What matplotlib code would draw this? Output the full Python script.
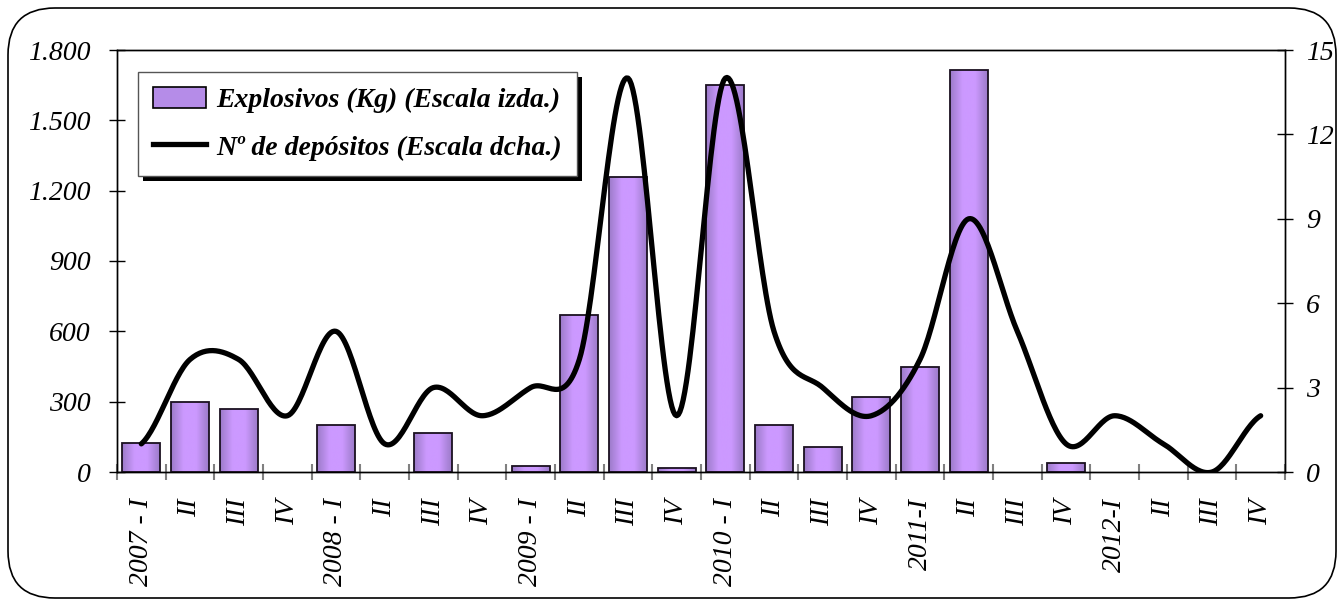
import numpy as np
import matplotlib
matplotlib.use("Agg")
import matplotlib.pyplot as plt
from matplotlib.patches import FancyBboxPatch, Rectangle, Patch
from matplotlib.lines import Line2D
from matplotlib.colors import LinearSegmentedColormap

categories = ["2007 - I", "II", "III", "IV", "2008 - I", "II", "III", "IV",
              "2009 - I", "II", "III", "IV", "2010 - I", "II", "III", "IV",
              "2011-I", "II", "III", "IV", "2012-I", "II", "III", "IV"]
explosivos = [125, 300, 270, 0, 200, 0, 165, 0,
              25, 670, 1260, 15, 1650, 200, 105, 320,
              450, 1715, 0, 38, 0, 0, 0, 0]
depositos = [1, 4, 4, 2, 5, 1, 3, 2,
             3, 4, 14, 2, 14, 5, 3, 2,
             4, 9, 5, 1, 2, 1, 0, 2]
left_ticks = [0, 300, 600, 900, 1200, 1500, 1800]
left_labels = ["0", "300", "600", "900", "1.200", "1.500", "1.800"]
right_ticks = [0, 3, 6, 9, 12, 15]
right_labels = ["0", "3", "6", "9", "12", "15"]

W, H = 1340, 600
fig = plt.figure(figsize=(W / 100, H / 100), dpi=100)
fig.patch.set_facecolor("white")

# outer rounded frame
frame = FancyBboxPatch((8 / W, 2 / H), (W - 12) / W, (H - 10) / H,
                       boxstyle="round,pad=0,rounding_size=0.035",
                       transform=fig.transFigure, fill=False,
                       edgecolor="black", linewidth=1.2, mutation_aspect=W / H)
fig.patches.append(frame)

ax = fig.add_axes([117 / W, 1 - 472 / H, (1285 - 117) / W, (472 - 50) / H])
ax2 = ax.twinx()

font = "Liberation Serif"
x = np.arange(len(categories))

# bars with horizontal gradient
cmap = LinearSegmentedColormap.from_list("g", ["#9C7BC9", "#CC99FF", "#CC99FF", "#9C7BC9"])
grad = np.linspace(0, 1, 64).reshape(1, -1)
bars = ax.bar(x, explosivos, width=0.78, color="#B58CE8", edgecolor="none",
              linewidth=0, zorder=2)
for b in bars:
    h = b.get_height()
    if h <= 0:
        b.set_visible(False)
        continue
    x0 = b.get_x()
    im = ax.imshow(grad, extent=(x0, x0 + b.get_width(), 0, h), cmap=cmap,
                   aspect="auto", zorder=2.5, interpolation="bicubic")
    im.set_clip_path(b)
    r = Rectangle((x0, 0), b.get_width(), h, fill=False, edgecolor="#1a1020",
                  linewidth=1.3, zorder=3)
    ax.add_patch(r)

# smoothed line (Catmull-Rom through the data points, like Excel smoothing)
y = np.array(depositos, dtype=float)
xs, ys = [], []
n = len(y)
for i in range(n - 1):
    p0 = y[i - 1] if i > 0 else y[i]
    p1, p2 = y[i], y[i + 1]
    p3 = y[i + 2] if i + 2 < n else y[i + 1]
    t = np.linspace(0, 1, 30, endpoint=False)
    seg = 0.5 * ((2 * p1) + (-p0 + p2) * t + (2 * p0 - 5 * p1 + 4 * p2 - p3) * t ** 2
                 + (-p0 + 3 * p1 - 3 * p2 + p3) * t ** 3)
    xs.extend(i + t)
    ys.extend(seg)
xs.append(n - 1)
ys.append(y[-1])
ax2.plot(xs, ys, color="black", linewidth=3.8, solid_capstyle="round", zorder=4)

ax.set_xlim(-0.5, len(categories) - 0.5)
ax.set_ylim(0, 1800)
ax2.set_ylim(0, 15)

ax.set_yticks(left_ticks)
ax.set_yticklabels(left_labels, fontfamily=font, fontstyle="italic", fontsize=20)
ax2.set_yticks(right_ticks)
ax2.set_yticklabels(right_labels, fontfamily=font, fontstyle="italic", fontsize=20)
ax.tick_params(axis="y", direction="inout", length=12, width=1, pad=13)
ax2.tick_params(axis="y", direction="inout", length=12, width=1, pad=9)

ax.set_xticks(x)
ax.set_xticklabels(categories, rotation=90, fontfamily=font, fontstyle="italic",
                   fontsize=20, va="top", ha="center")
ax.tick_params(axis="x", which="major", length=0, pad=19)
ax.set_xticks(np.arange(len(categories) + 1) - 0.5, minor=True)
ax.tick_params(axis="x", which="minor", direction="inout", length=12, width=1.5,
               color="#808080")

for a in (ax, ax2):
    for s in a.spines.values():
        s.set_linewidth(1)
        s.set_color("black")

handles = [Patch(facecolor="#B58CE8", edgecolor="black", linewidth=1.2),
           Line2D([0], [0], color="black", linewidth=3.8)]
leg = ax2.legend(handles, ["Explosivos (Kg) (Escala izda.)", "Nº de depósitos (Escala dcha.)"],
                 loc="upper left", bbox_to_anchor=(0.018, 0.948), borderaxespad=0,
                 prop={"family": font, "style": "italic", "weight": "bold", "size": 20},
                 frameon=True, fancybox=False, edgecolor="#555555", framealpha=1,
                 handlelength=1.9, handleheight=0.8, handletextpad=0.35,
                 borderpad=0.55, labelspacing=0.75)
leg.get_frame().set_linewidth(1)
leg.set_zorder(10)

fig.canvas.draw()
bb = leg.get_window_extent()
sh = Rectangle((bb.x0 + 5, bb.y0 - 5), bb.width, bb.height, transform=None,
               facecolor="black", edgecolor="none", zorder=9)
ax2.add_artist(sh)

fig.savefig("out.png", dpi=100)
